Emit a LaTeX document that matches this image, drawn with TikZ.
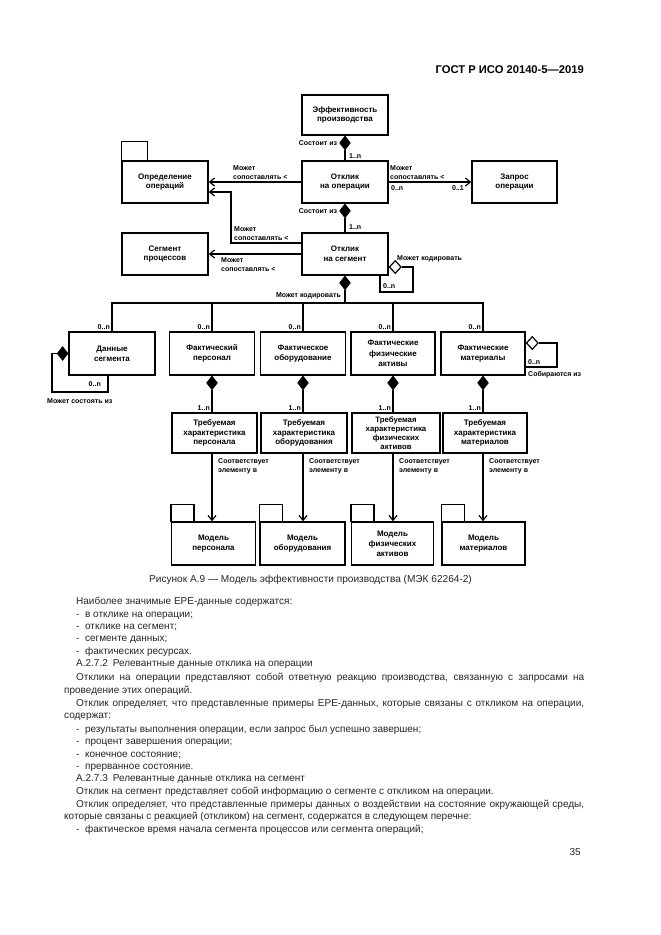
\documentclass[tikz,border=0pt]{standalone}
\usepackage{fontspec}
\setmainfont{Liberation Sans}
\usetikzlibrary{shapes.geometric,arrows.meta}
\begin{document}
\begin{tikzpicture}[x=1pt,y=-1pt,
  box/.style={draw, line width=1.3pt, minimum width=86pt, minimum height=42pt, inner sep=1pt, align=center, font=\bfseries\fontsize{8}{9.8}\selectfont},
  lbl/.style={font=\bfseries\fontsize{7}{9}\selectfont, inner sep=0pt, align=left},
  conn/.style={line width=1.3pt},
  arr/.style={-{Straight Barb[length=5pt,width=8pt,line width=1.2pt]}},
  fdia/.style={diamond, fill=black, draw, line width=0.5pt, minimum width=11pt, minimum height=14pt, inner sep=0pt},
  odia/.style={diamond, fill=white, draw, line width=1.2pt, minimum width=12pt, minimum height=13pt, inner sep=0pt},
  txt/.style={anchor=base west, inner sep=0pt, text=black!85, font=\fontsize{10}{11}\selectfont}
]
\useasboundingbox[fill=white] (0,0) rectangle (661,935);

% header
\node[anchor=base east, inner sep=0pt, font=\bfseries\fontsize{11.2}{13}\selectfont] (hdr) at (584,73) {ГОСТ Р ИСО 20140-5—2019};

% top boxes
\node[box, minimum height=40pt] (eff) at (345,115) {Эффективность\\производства};
\node[box] (rop) at (345,182) {Отклик\\на операции};
\node[box] (rseg) at (345,254) {Отклик\\на сегмент};
\node[box, minimum width=85pt] (req) at (514.5,182) {Запрос\\операции};
\node[box] (opdef) at (165,182) {Определение\\операций};
\draw[line width=1.3pt] (opdef.north west) rectangle ++(26,-19);
\node[box] (procseg) at (165,254) {Сегмент\\процессов};

% eff -> rop
\node[fdia, anchor=north] (d1) at (eff.south) {};
\draw[conn] (d1.south) -- (rop.north);
\node[lbl, anchor=east] (l1) at ([xshift=-2pt]d1.west) {Состоит из};
\node[lbl, anchor=west] (l2) at (349,156) {1..n};

% rop -> rseg
\node[fdia, anchor=north] (d2) at (rop.south) {};
\draw[conn] (d2.south) -- (rseg.north);
\node[lbl, anchor=east] (l3) at ([xshift=-2pt]d2.west) {Состоит из};
\node[lbl, anchor=west] (l4) at (349,227) {1..n};

% rop -> req
\draw[conn,arr] (rop.east) -- (req.west);
\node[lbl, anchor=south west] (l5) at (390,180) {Может\\сопоставлять <};
\node[lbl, anchor=north west] (l6) at (391,185) {0..n};
\node[lbl, anchor=north east] (l7) at (464,185) {0..1};

% rop -> opdef
\draw[conn,arr] (rop.west) -- (opdef.east);
\node[lbl, anchor=south west] (l8) at (233,180) {Может\\сопоставлять <};

% rseg -> opdef
\coordinate (c1) at (231,192);
\draw[conn,arr] ([yshift=11pt]rseg.west) -| (c1) -- ([yshift=-10pt]opdef.east);
\node[lbl, anchor=south west] (l9) at (234,241) {Может\\сопоставлять <};

% rseg -> procseg
\draw[conn,arr] (rseg.west) -- (procseg.east);
\node[lbl, anchor=north west] (l10) at (221,257) {Может\\сопоставлять <};

% rseg self loop
\node[odia, anchor=west] (od1) at ([yshift=-13pt]rseg.east) {};
\coordinate (c2) at (413,292);
\draw[conn] (od1.east) -| (c2) -| ([xshift=35pt]rseg.south);
\node[lbl, anchor=south west] (l11) at (397,262) {Может кодировать};
\node[lbl, anchor=west] (l12) at (383,286) {0..n};

% rseg -> bus
\node[fdia, anchor=north] (d3) at (rseg.south) {};
\coordinate (bus) at (345,303);
\draw[conn] (d3.south) -- (bus);
\node[lbl, anchor=east] (l13) at (341,296) {Может кодировать};

% row boxes
\node[box, minimum height=43pt] (segd) at (112,353.5) {Данные\\сегмента};
\node[box, minimum width=85pt, minimum height=43pt] (pers) at (212,353.5) {Фактический\\персонал};
\node[box, minimum width=85pt, minimum height=43pt] (equip) at (303,353.5) {Фактическое\\оборудование};
\node[box, minimum width=84pt, minimum height=43pt, font=\bfseries\fontsize{8}{10.5}\selectfont] (phys) at (393,353.5) {Фактические\\физические\\активы};
\node[box, minimum width=84pt, minimum height=43pt] (mat) at (483,353.5) {Фактические\\материалы};

\draw[conn] (segd.north) |- (bus) -| (mat.north);
\draw[conn] (pers.north) -- (pers.north |- bus);
\draw[conn] (equip.north) -- (equip.north |- bus);
\draw[conn] (phys.north) -- (phys.north |- bus);

\foreach \n in {segd,pers,equip,phys,mat}{
  \node[lbl, anchor=south east] at ([xshift=-2pt,yshift=2pt]\n.north) {0..n};
}

% segd self loop
\node[fdia, anchor=east] (d4) at (segd.west) {};
\coordinate (c3) at (52,392);
\draw[conn] (d4.west) -| (c3) -| ([xshift=-4pt]segd.south);
\node[lbl, anchor=east] (l14) at (101,384) {0..n};
\node[lbl, anchor=west] (l15) at (47,401) {Может состоять из};

% mat self loop
\node[odia, anchor=west] (od2) at ([yshift=10.5pt]mat.east) {};
\coordinate (c4) at (557,367);
\draw[conn] (od2.east) -| (c4) -- (c4 -| mat.east);
\node[lbl, anchor=west] (l16) at (528,362) {0..n};
\node[lbl, anchor=west] (l17) at (528,375) {Собираются из};

% required characteristic boxes
\node[box, minimum width=85pt, minimum height=40pt] (rqp) at (214.5,433) {Требуемая\\характеристика\\персонала};
\node[box, minimum width=86pt, minimum height=40pt] (rqe) at (304,433) {Требуемая\\характеристика\\оборудования};
\node[box, minimum width=88pt, minimum height=40pt, inner sep=0pt, font=\bfseries\fontsize{7.8}{8.9}\selectfont] (rqf) at (396,433) {Требуемая\\характеристика\\физических\\активов};
\node[box, minimum width=84pt, minimum height=40pt] (rqm) at (485,433) {Требуемая\\характеристика\\материалов};

% model boxes
\node[box, minimum width=84pt, minimum height=43pt] (mp) at (213.5,543.5) {Модель\\персонала};
\node[box, minimum width=85pt, minimum height=43pt] (me) at (302.5,543.5) {Модель\\оборудования};
\node[box, minimum width=82pt, minimum height=43pt, font=\bfseries\fontsize{8}{10.2}\selectfont] (mf) at (392.5,543.5) {Модель\\физических\\активов};
\node[box, minimum width=83pt, minimum height=43pt] (mm) at (483.5,543.5) {Модель\\материалов};
\foreach \n in {mp,me,mf,mm}{
  \draw[line width=1.3pt] (\n.north west) rectangle ++(23,-17);
}

% columns
\node[fdia, anchor=north] (dp) at (pers.south) {};
\node[fdia, anchor=north] (de) at (equip.south) {};
\node[fdia, anchor=north] (df) at (phys.south) {};
\node[fdia, anchor=north] (dm) at (mat.south) {};
\draw[conn] (dp.south) -- (dp.south |- rqp.north);
\draw[conn] (de.south) -- (de.south |- rqe.north);
\draw[conn] (df.south) -- (df.south |- rqf.north);
\draw[conn] (dm.south) -- (dm.south |- rqm.north);
\foreach \d/\q in {dp/rqp,de/rqe,df/rqf,dm/rqm}{
  \node[lbl, anchor=south east] at ([xshift=-2pt,yshift=2pt]\d.south |- \q.north) {1..n};
}
\draw[conn,arr] (dp.south |- rqp.south) -- (dp.south |- mp.north);
\draw[conn,arr] (de.south |- rqe.south) -- (de.south |- me.north);
\draw[conn,arr] (df.south |- rqf.south) -- (df.south |- mf.north);
\draw[conn,arr] (dm.south |- rqm.south) -- (dm.south |- mm.north);
\foreach \d/\q in {dp/rqp,de/rqe,df/rqf,dm/rqm}{
  \node[lbl, anchor=north west] at ([xshift=6pt,yshift=-5pt]\d.south |- \q.south) {Соответствует\\элементу в};
}

% caption
\node[anchor=base, inner sep=0pt, font=\fontsize{10.1}{11}\selectfont, text=black!85] (cap) at (310.5,582) {Рисунок А.9 — Модель эффективности производства (МЭК 62264-2)};

% body text
\node[txt] (t1) at (76,604) {Наиболее значимые EPE-данные содержатся:};
\node[txt] (t2) at (76,617) {- \ в отклике на операции;};
\node[txt] (t3) at (76,629) {- \ отклике на сегмент;};
\node[txt] (t4) at (76,641) {- \ сегменте данных;};
\node[txt] (t5) at (76,654) {- \ фактических ресурсах.};
\node[txt] (t6) at (76,666) {А.2.7.2\hspace{5pt}Релевантные данные отклика на операции};
\node[txt] (t7) at (76,680) {\makebox[508pt][s]{Отклики на операции представляют собой ответную реакцию производства, связанную с запросами на}};
\node[txt] (t8) at (64,693) {проведение этих операций.};
\node[txt] (t9) at (76,706) {\makebox[508pt][s]{Отклик определяет, что представленные примеры EPE-данных, которые связаны с откликом на операции,}};
\node[txt] (t10) at (64,718) {содержат:};
\node[txt] (t11) at (76,732) {- \ результаты выполнения операции, если запрос был успешно завершен;};
\node[txt] (t12) at (76,744) {- \ процент завершения операции;};
\node[txt] (t13) at (76,757) {- \ конечное состояние;};
\node[txt] (t14) at (76,769) {- \ прерванное состояние.};
\node[txt] (t15) at (76,781) {А.2.7.3\hspace{5pt}Релевантные данные отклика на сегмент};
\node[txt] (t16) at (76,794) {Отклик на сегмент представляет собой информацию о сегменте с откликом на операции.};
\node[txt] (t17) at (76,807) {\makebox[508pt][s]{Отклик определяет, что представленные примеры данных о воздействии на состояние окружающей среды,}};
\node[txt] (t18) at (64,819) {которые связаны с реакцией (откликом) на сегмент, содержатся в следующем перечне:};
\node[txt] (t19) at (76,832) {- \ фактическое время начала сегмента процессов или сегмента операций;};
\node[anchor=base east, inner sep=0pt, font=\fontsize{10}{11}\selectfont, text=black!85] (pg) at (581,855) {35};
\end{tikzpicture}
\end{document}
